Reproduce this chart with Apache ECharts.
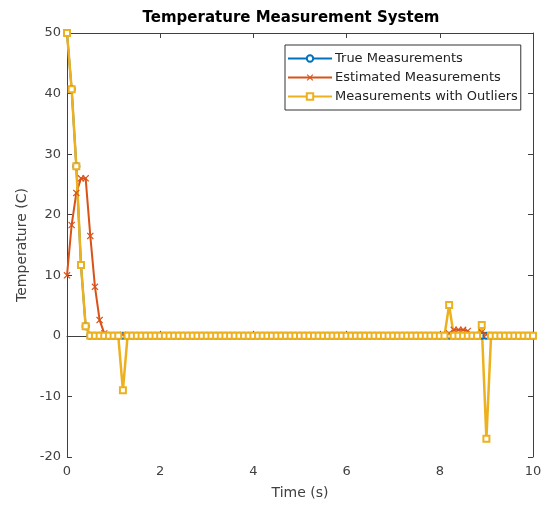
<!DOCTYPE html>
<html><head><meta charset="utf-8">
<script src="https://cdn.jsdelivr.net/npm/echarts@6/dist/echarts.min.js"></script>
<style>html,body{margin:0;padding:0;background:#fff}#c{width:548px;height:508px}</style>
</head><body><div id="c"></div>
<script>
// time samples 0..10 s (step 0.1)
var timeTicks = [0, 2, 4, 6, 8, 10];
var tempTicks = [-20, -10, 0, 10, 20, 30, 40, 50];
var seriesNames = ['True Measurements', 'Estimated Measurements', 'Measurements with Outliers'];

var trueVals = [
 50, 40.7, 28, 11.7, 1.6, 0, 0, 0, 0, 0,
 0, 0, 0, 0, 0, 0, 0, 0, 0, 0,
 0, 0, 0, 0, 0, 0, 0, 0, 0, 0,
 0, 0, 0, 0, 0, 0, 0, 0, 0, 0,
 0, 0, 0, 0, 0, 0, 0, 0, 0, 0,
 0, 0, 0, 0, 0, 0, 0, 0, 0, 0,
 0, 0, 0, 0, 0, 0, 0, 0, 0, 0,
 0, 0, 0, 0, 0, 0, 0, 0, 0, 0,
 0, 0, 0, 0, 0, 0, 0, 0, 0, 0,
 0, 0, 0, 0, 0, 0, 0, 0, 0, 0,
 0];
var estVals = [
 10, 18.3, 23.6, 26, 26, 16.5, 8.1, 2.6, 0.4, 0.1,
 0, 0, 0.2, 0.1, 0, 0, 0, 0, 0, 0,
 0, 0, 0, 0, 0, 0, 0, 0, 0, 0,
 0, 0, 0, 0, 0, 0, 0, 0, 0, 0,
 0, 0, 0, 0, 0, 0, 0, 0, 0, 0,
 0, 0, 0, 0, 0, 0, 0, 0, 0, 0,
 0, 0, 0, 0, 0, 0, 0, 0, 0, 0,
 0, 0, 0, 0, 0, 0, 0, 0, 0, 0,
 0, 0, 0.4, 1.0, 1.0, 1.0, 0.8, 0.1, 0, 0.6,
 0.2, 0, 0, 0, 0, 0, 0, 0, 0, 0,
 0];
var outlierVals = [
 50, 40.7, 28, 11.7, 1.6, 0, 0, 0, 0, 0,
 0, 0, -9, 0, 0, 0, 0, 0, 0, 0,
 0, 0, 0, 0, 0, 0, 0, 0, 0, 0,
 0, 0, 0, 0, 0, 0, 0, 0, 0, 0,
 0, 0, 0, 0, 0, 0, 0, 0, 0, 0,
 0, 0, 0, 0, 0, 0, 0, 0, 0, 0,
 0, 0, 0, 0, 0, 0, 0, 0, 0, 0,
 0, 0, 0, 0, 0, 0, 0, 0, 0, 0,
 0, 0, 5.1, 0, 0, 0, 0, 0, 0, 1.8,
 -17, 0, 0, 0, 0, 0, 0, 0, 0, 0,
 0];

function pairs(vals) {
  var out = [];
  for (var i = 0; i < vals.length; i++) out.push([i / 10, vals[i]]);
  return out;
}

var FONT = 'DejaVu Sans';
var AX = '#404040';
var xShape = 'path://M0,1.2 L1.2,0 L5,3.8 L8.8,0 L10,1.2 L6.2,5 L10,8.8 L8.8,10 L5,6.2 L1.2,10 L0,8.8 L3.8,5 Z';

var chart = echarts.init(document.getElementById('c'), null, {renderer: 'canvas'});
chart.setOption({
  animation: false,
  backgroundColor: '#fff',
  title: {
    text: 'Temperature Measurement System',
    left: 286, top: 6, textAlign: 'center',
    textStyle: {fontFamily: FONT, fontWeight: 'bold', fontSize: 15, color: '#000'}
  },
  legend: {
    data: seriesNames,
    orient: 'vertical',
    left: 285, top: 45,
    padding: [7, 3, 7, 2],
    itemGap: 6,
    itemWidth: 44, itemHeight: 8,
    borderColor: '#333', borderWidth: 1, borderRadius: 0,
    backgroundColor: '#fff',
    textStyle: {fontFamily: FONT, fontSize: 13, color: '#222', padding: [0,0,0,-2]}
  },
  grid: {left: 67, right: 15, top: 33, bottom: 51, containLabel: false},
  xAxis: [{
    type: 'value', min: 0, max: 10, interval: 2,
    name: 'Time (s)', nameLocation: 'middle', nameGap: 29,
    nameTextStyle: {fontFamily: FONT, fontSize: 14, color: AX},
    axisLine: {show: true, lineStyle: {color: AX, width: 1}},
    axisTick: {show: true, inside: true, length: 5, lineStyle: {color: AX}},
    axisLabel: {fontFamily: FONT, fontSize: 13, color: AX, margin: 8},
    splitLine: {show: false}
  }, {
    type: 'value', min: 0, max: 10, interval: 2, position: 'top',
    axisLine: {show: true, onZero: false, lineStyle: {color: AX, width: 1}},
    axisTick: {show: true, inside: true, length: 5, lineStyle: {color: AX}},
    axisLabel: {show: false}, splitLine: {show: false}
  }],
  yAxis: [{
    type: 'value', min: -20, max: 50, interval: 10,
    name: 'Temperature (C)', nameLocation: 'middle', nameGap: 38,
    nameTextStyle: {fontFamily: FONT, fontSize: 14, color: AX},
    axisLine: {show: true, onZero: false, lineStyle: {color: AX, width: 1}},
    axisTick: {show: true, inside: true, length: 5, lineStyle: {color: AX}},
    axisLabel: {fontFamily: FONT, fontSize: 13, color: AX, margin: 6},
    splitLine: {show: false}
  }, {
    type: 'value', min: -20, max: 50, interval: 10, position: 'right',
    axisLine: {show: true, onZero: false, lineStyle: {color: AX, width: 1}},
    axisTick: {show: true, inside: true, length: 5, lineStyle: {color: AX}},
    axisLabel: {show: false}, splitLine: {show: false}
  }],
  series: [{
    name: seriesNames[0], type: 'line', data: pairs(trueVals),
    color: '#0072BD',
    lineStyle: {width: 2, color: '#0072BD'},
    symbol: 'emptyCircle', symbolSize: 6, showAllSymbol: true,
    itemStyle: {color: '#0072BD', borderWidth: 1.2}
  }, {
    name: seriesNames[1], type: 'line', data: pairs(estVals),
    color: '#D95319',
    lineStyle: {width: 2, color: '#D95319'},
    symbol: xShape, symbolSize: 7, showAllSymbol: true,
    itemStyle: {color: '#D95319'}
  }, {
    name: seriesNames[2], type: 'line', data: pairs(outlierVals),
    color: '#EDB120',
    lineStyle: {width: 2.5, color: '#EDB120'},
    symbol: 'emptyRect', symbolSize: 6, showAllSymbol: true,
    itemStyle: {color: '#EDB120', borderWidth: 1.5}
  }]
});
</script></body></html>
